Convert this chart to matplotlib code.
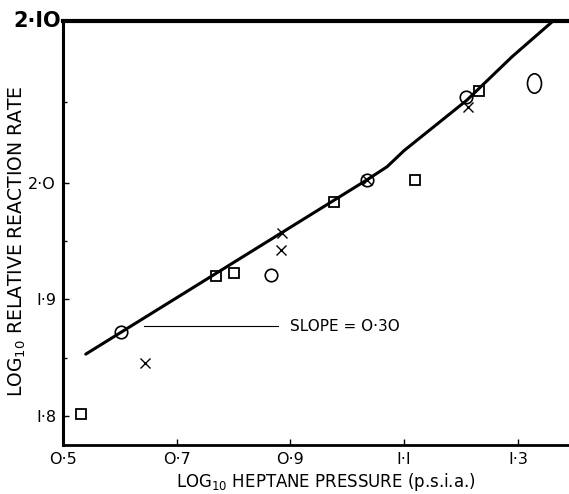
import numpy as np
import matplotlib
matplotlib.use("Agg")
import matplotlib.pyplot as plt
from matplotlib.path import Path
from matplotlib.ticker import FixedLocator, FixedFormatter

# ---- data ----
sq_x = [0.532, 0.770, 0.800, 0.977, 1.119, 1.232]
sq_y = [1.802, 1.920, 1.923, 1.984, 2.002, 2.057]

ci_x = [0.602, 0.866, 1.034, 1.208]
ci_y = [1.872, 1.921, 2.002, 2.053]

big_ci_x = [1.328]
big_ci_y = [2.062]

xx_x = [0.645, 0.885, 0.883, 1.034, 1.212]
xx_y = [1.845, 1.957, 1.942, 2.002, 2.047]

fit_x = [0.540, 1.035, 1.070, 1.100, 1.210, 1.290, 1.362]
fit_y = [1.853, 2.002, 2.010, 2.020, 2.051, 2.078, 2.100]

slope_line_x = [0.642, 0.878]
slope_line_y = [1.877, 1.877]
slope_text = "SLOPE = O·3O"

xticks = [0.5, 0.7, 0.9, 1.1, 1.3]
xtick_labels = ["O·5", "O·7", "O·9", "I·I", "I·3"]
yticks = [1.8, 1.9, 2.0]
ytick_labels = ["I·8", "I·9", "2·O"]

# piecewise-linear y axis (upper decade drawn stretched as in the original)
K = 1.3906
def fwd(y):
    y = np.asarray(y, dtype=float)
    return np.where(y <= 2.0, y, 2.0 + (y - 2.0) * K)
def inv(s):
    s = np.asarray(s, dtype=float)
    return np.where(s <= 2.0, s, 2.0 + (s - 2.0) / K)

fig = plt.figure(figsize=(5.69, 4.94), dpi=100)
ax = fig.add_axes([0.1107, 0.0992, 0.8893, 0.8583])
ax.set_yscale("function", functions=(fwd, inv))
ax.set_xlim(0.5, 1.390)
ax.set_ylim(1.775, 2.10)

ax.plot(fit_x, fit_y, color="black", lw=2.2, solid_capstyle="round", zorder=3)
ax.plot(sq_x, sq_y, ls="none", marker="s", ms=7, mfc="none", mec="black", mew=1.3, zorder=4)
ax.plot(ci_x, ci_y, ls="none", marker="o", ms=9, mfc="none", mec="black", mew=1.2, zorder=4)
ell = Path.unit_circle().transformed(matplotlib.transforms.Affine2D().scale(0.72, 1.0))
ax.plot(big_ci_x, big_ci_y, ls="none", marker=ell, ms=14, mfc="none", mec="black", mew=1.2, zorder=4)
ax.plot(xx_x, xx_y, ls="none", marker="x", ms=6.5, mec="black", mew=1.0, zorder=4)

ax.plot(slope_line_x, slope_line_y, color="black", lw=0.8)
ax.text(0.900, 1.877, slope_text, fontsize=11, va="center", ha="left")

ax.xaxis.set_major_locator(FixedLocator(xticks))
ax.xaxis.set_major_formatter(FixedFormatter(xtick_labels))
ax.yaxis.set_major_locator(FixedLocator(yticks + [2.10]))
ax.yaxis.set_major_formatter(FixedFormatter(ytick_labels + [""]))
ax.yaxis.set_minor_locator(FixedLocator([1.85, 1.95, 2.05]))
ax.xaxis.set_minor_locator(FixedLocator([]))
ax.tick_params(axis="both", which="major", direction="in", length=4, width=1.0,
               labelsize=11.5, pad=5)
ax.tick_params(axis="y", which="minor", direction="in", length=3, width=1.0)
ax.text(-0.004, 1.0, "2·IO", transform=ax.transAxes, ha="right", va="center",
        fontsize=15, fontweight="bold")

for s, w in [("left", 2.2), ("bottom", 2.0), ("top", 3.0)]:
    ax.spines[s].set_linewidth(w)
ax.spines["right"].set_visible(False)

ax.set_xlabel(r"LOG$_{\mathregular{10}}$ HEPTANE PRESSURE (p.s.i.a.)", fontsize=12, va="center")
ax.set_ylabel(r"LOG$_{\mathregular{10}}$ RELATIVE REACTION RATE", fontsize=13.5, va="center")
ax.xaxis.set_label_coords(0.52, -0.087)
ax.yaxis.set_label_coords(-0.09, 0.48)

fig.savefig("out.png", dpi=100)
